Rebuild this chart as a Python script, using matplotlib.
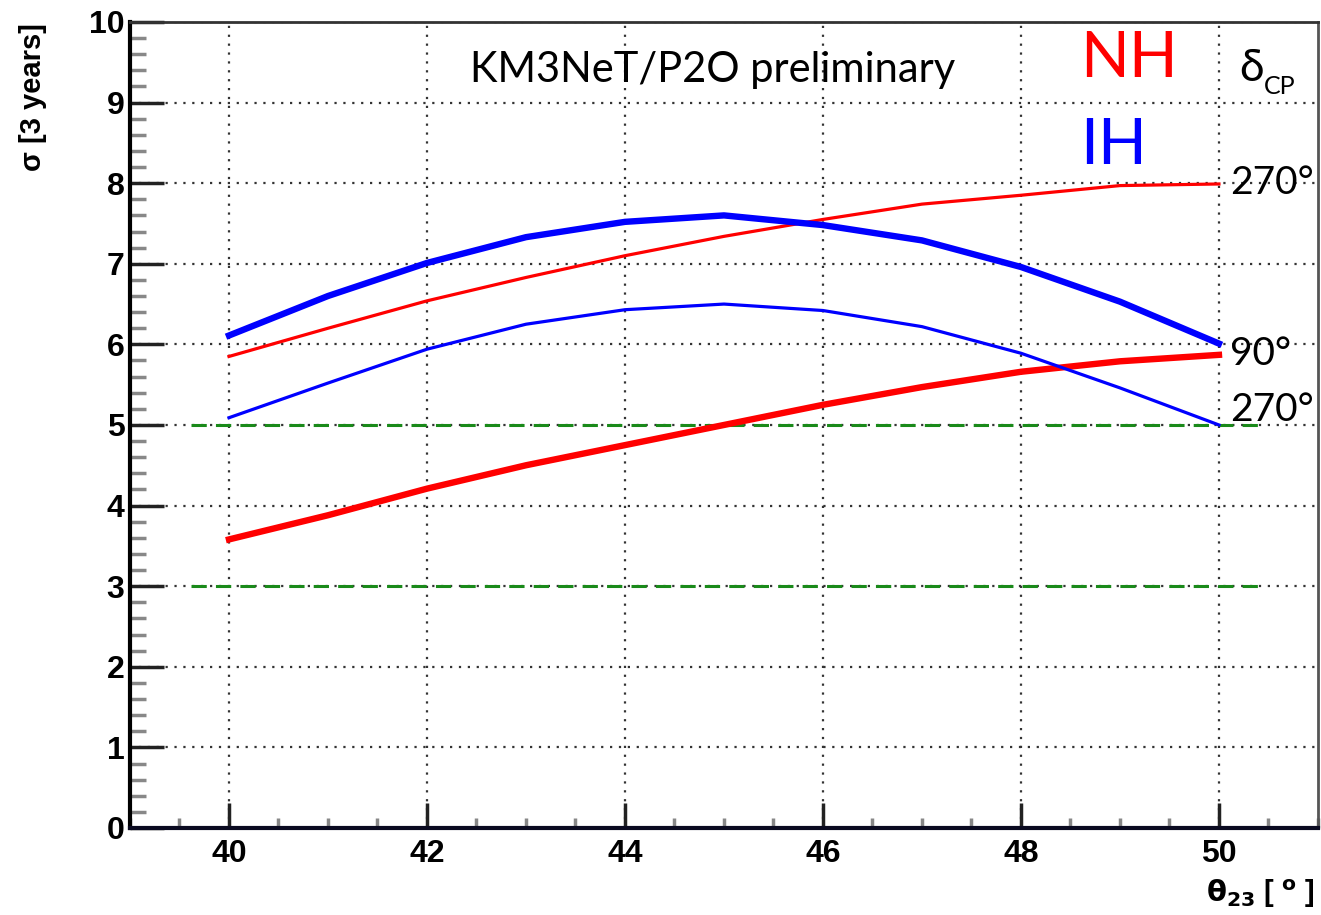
import matplotlib
matplotlib.use("Agg")
import matplotlib.pyplot as plt
from matplotlib.ticker import MultipleLocator

# theta_23 grid [deg]
theta = [40, 41, 42, 43, 44, 45, 46, 47, 48, 49, 50]

# sensitivity [sigma, 3 years]
nh_270 = [5.85, 6.20, 6.54, 6.83, 7.10, 7.34, 7.55, 7.74, 7.85, 7.97, 7.99]
nh_90 = [3.58, 3.88, 4.21, 4.50, 4.75, 5.00, 5.25, 5.47, 5.66, 5.79, 5.87]
ih_90 = [6.11, 6.60, 7.01, 7.33, 7.52, 7.60, 7.48, 7.29, 6.96, 6.53, 6.01]
ih_270 = [5.09, 5.52, 5.94, 6.25, 6.43, 6.50, 6.42, 6.22, 5.89, 5.46, 5.00]

sigma_levels = [3, 5]
level_xrange = [39.62, 50.45]

fig = plt.figure(figsize=(13.21, 9.15), dpi=100)
ax = fig.add_axes([0.0984, 0.0951, 0.8993, 0.8809])

ax.set_xlim(39, 51)
ax.set_ylim(0, 10)

# reference levels
for lev in sigma_levels:
    ax.plot(level_xrange, [lev, lev], color="#1a8a1a", lw=2.2,
            dashes=(5, 3), zorder=2)

ax.plot(theta, nh_270, color="#ff0000", lw=2.3, zorder=3)
ax.plot(theta, nh_90, color="#ff0000", lw=4.6, zorder=3)
ax.plot(theta, ih_90, color="#0000ff", lw=4.6, zorder=3)
ax.plot(theta, ih_270, color="#0000ff", lw=2.3, zorder=3)

# ROOT-like axes
ax.xaxis.set_major_locator(MultipleLocator(2))
ax.xaxis.set_minor_locator(MultipleLocator(0.5))
ax.yaxis.set_major_locator(MultipleLocator(1))
ax.yaxis.set_minor_locator(MultipleLocator(0.2))
ax.tick_params(which="both", direction="in", top=False, right=False)
ax.tick_params(axis="y", which="major", length=24.5, width=2.5, color="#222222")
ax.tick_params(axis="y", which="minor", length=11.5, width=2.5, color="#888888")
ax.tick_params(axis="x", which="major", length=18, width=2.5, color="#222222")
ax.tick_params(axis="x", which="minor", length=7, width=2.5, color="#888888")
ax.tick_params(axis="both", which="major", labelsize=23)
ax.tick_params(axis="x", pad=8)
ax.tick_params(axis="y", pad=4)
for lab in ax.get_xticklabels() + ax.get_yticklabels():
    lab.set_fontweight("bold")
    lab.set_family("Liberation Sans")

ax.grid(True, which="major", color="#333333", lw=1.6, linestyle=(0, (1, 3)))
ax.set_axisbelow(True)
ax.spines["left"].set_linewidth(3)
ax.spines["bottom"].set_linewidth(3)
ax.spines["bottom"].set_color("#0a0a20")
ax.spines["top"].set_linewidth(2)
ax.spines["top"].set_color("#333333")
ax.spines["right"].set_linewidth(2)
ax.spines["right"].set_color("#555555")

fig.text(0.025, 0.975, "σ [3 years]", rotation=90, ha="center", va="top",
         fontsize=21, fontweight="bold", family="Liberation Sans")
fig.text(0.995, 0.006, r"$\mathbf{\theta_{23}}$ [ $^{\mathbf{o}}$ ]", ha="right",
         va="bottom", fontsize=21, fontweight="bold", family="Liberation Sans")

txt = dict(family="Lato", transform=fig.transFigure)
fig.text(0.356, 0.923, "KM3NeT/P2O preliminary", fontsize=30, va="center",
         color="black", **txt)
fig.text(0.818, 0.935, "NH", fontsize=46, color="#ff0000", va="center", **txt)
fig.text(0.818, 0.840, "IH", fontsize=46, color="#0000ff", va="center", **txt)
fig.text(0.938, 0.925, "δ", fontsize=32, va="center", **txt)
fig.text(0.957, 0.905, "CP", fontsize=18, va="center", **txt)
fig.text(0.931, 0.800, "270°", fontsize=28, va="center", **txt)
fig.text(0.931, 0.613, "90°", fontsize=28, va="center", **txt)
fig.text(0.931, 0.552, "270°", fontsize=28, va="center", **txt)

fig.savefig("out.png", dpi=100)
